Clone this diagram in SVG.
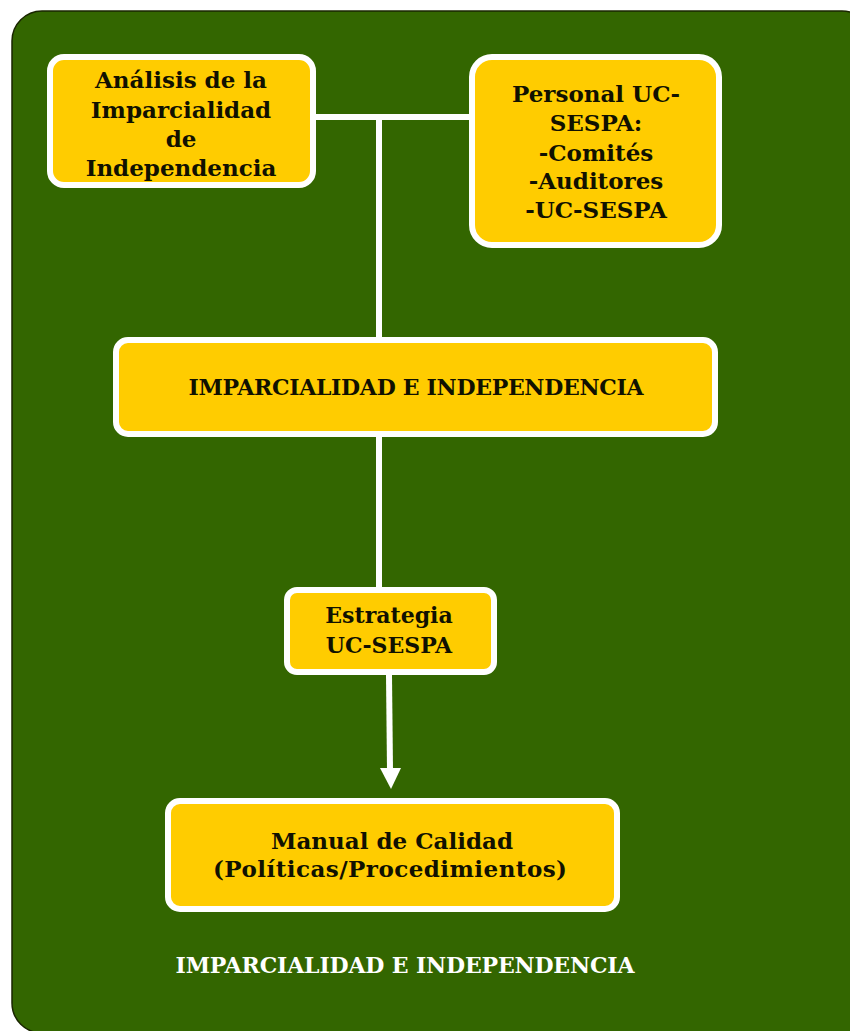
<svg xmlns="http://www.w3.org/2000/svg" width="850" height="1031" viewBox="0 0 850 1031">
<defs>
<style>
.box{fill:#FFCC00;stroke:#FFFFFF;stroke-width:6}
.t{font-family:"DejaVu Serif","Liberation Serif",serif;font-weight:bold;font-size:23px;fill:#111100;text-anchor:middle}
.c{font-size:22px}
.w{fill:#FFFFFF}
.ln{stroke:#FFFFFF;stroke-width:6;fill:none}
</style>
</defs>
<rect x="0" y="0" width="850" height="1031" fill="#FFFFFF"/>
<rect x="12" y="11" width="860" height="1022" rx="30" fill="#336600" stroke="#1a2600" stroke-width="1.5"/>
<g id="connectors">
<line class="ln" x1="313" y1="117" x2="472" y2="117"/>
<line class="ln" x1="379" y1="117" x2="379" y2="340"/>
<line class="ln" x1="379" y1="434" x2="379" y2="590"/>
<line class="ln" x1="389" y1="675" x2="390" y2="770" stroke-width="5"/>
<polygon points="380,768 401,768 391,789" fill="#FFFFFF"/>
</g>
<g id="analisis">
<rect class="box" x="50" y="57" width="263" height="128" rx="14"/>
<text class="t" x="181" y="88">Análisis de la</text>
<text class="t" x="181" y="118">Imparcialidad</text>
<text class="t" x="181" y="147">de</text>
<text class="t" x="181" y="176">Independencia</text>
</g>
<g id="personal">
<rect class="box" x="472" y="57" width="247" height="188" rx="20"/>
<text class="t" x="596" y="102">Personal UC-</text>
<text class="t" x="596" y="131">SESPA:</text>
<text class="t" x="596" y="161">-Comités</text>
<text class="t" x="596" y="189">-Auditores</text>
<text class="t" x="596" y="218">-UC-SESPA</text>
</g>
<g id="imparcialidad">
<rect class="box" x="116" y="340" width="599" height="94" rx="12"/>
<text class="t c" x="416" y="395" textLength="455">IMPARCIALIDAD E INDEPENDENCIA</text>
</g>
<g id="estrategia">
<rect class="box" x="287" y="590" width="207" height="82" rx="10"/>
<text class="t c" x="389" y="623">Estrategia</text>
<text class="t c" x="389" y="653">UC-SESPA</text>
</g>
<g id="manual">
<rect class="box" x="168" y="801" width="449" height="108" rx="12"/>
<text class="t" x="392" y="849" textLength="242">Manual de Calidad</text>
<text class="t" x="390" y="877" textLength="354">(Políticas/Procedimientos)</text>
</g>
<g id="footer">
<text class="t c w" x="405" y="973" textLength="459">IMPARCIALIDAD E INDEPENDENCIA</text>
</g>
</svg>
